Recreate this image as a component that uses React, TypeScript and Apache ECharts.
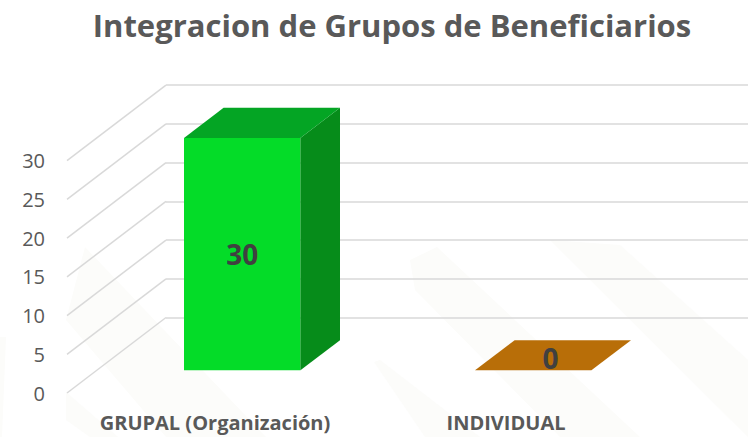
import React, { useEffect, useRef } from "react";
import * as echarts from "echarts";

const categories = ["GRUPAL (Organización)", "INDIVIDUAL"];
const values = [30, 0];
const yTicks = [0, 5, 10, 15, 20, 25, 30];
const frontColors = ["#04DC28", "#C0740A"];
const topColors = ["#04A524", "#B86E08"];
const sideColors = ["#068C1A", "#9A5C06"];
const watermark = [
  [[0, 337], [6, 337], [2, 437], [0, 437]],
  [[66, 392], [66, 420], [90, 437], [118, 437]],
  [[85, 247], [66, 320], [166, 437], [266, 437]],
  [[374, 362], [380, 360], [480, 437], [425, 437]],
  [[437, 247], [410, 260], [415, 290], [560, 437], [640, 437]],
  [[550, 240], [620, 245], [748, 360], [748, 437]],
];

const DEPTH_X = 99;
const DEPTH_Y = -75.5;

export default function App() {
  const ref = useRef<HTMLDivElement>(null);
  useEffect(() => {
    const chart = echarts.init(ref.current!, undefined, { renderer: "svg" });
    chart.setOption({
      animation: false,
      backgroundColor: "#ffffff",
      textStyle: { fontFamily: "Open Sans" },
      title: {
        text: "Integracion de Grupos de Beneficiarios",
        left: 387,
        top: 4,
        textAlign: "center",
        textStyle: { fontFamily: "Open Sans", fontSize: 31, fontWeight: 700, color: "#595959" },
      },
      graphic: watermark.map((points) => ({
        type: "polygon",
        z: -10,
        silent: true,
        shape: { points },
        style: { fill: "#fcfcfa" },
      })),
      grid: [
        { left: 166, width: 582, top: 85, height: 232.7 },
        { left: 67, width: 582, top: 160.7, height: 232.3 },
      ],
      xAxis: [
        {
          gridIndex: 0,
          type: "category",
          data: categories,
          axisLine: { show: false },
          axisTick: { show: false },
          axisLabel: { show: false },
        },
        {
          gridIndex: 1,
          type: "category",
          data: categories,
          axisLine: { show: false },
          axisTick: { show: false },
          axisLabel: {
            interval: 0,
            hideOverlap: false,
            margin: 19,
            padding: [0, 0, 0, 5],
            fontFamily: "Open Sans",
            fontSize: 20,
            fontWeight: 700,
            color: "#595959",
          },
        },
      ],
      yAxis: [
        {
          gridIndex: 0,
          type: "value",
          min: 0,
          max: 30,
          interval: 5,
          axisLine: { show: false },
          axisTick: { show: false },
          axisLabel: { show: false },
          splitLine: { show: true, lineStyle: { color: "#d9d9d9", width: 1.5 } },
        },
        {
          gridIndex: 1,
          type: "value",
          min: 0,
          max: 30,
          interval: 5,
          axisLine: { show: false },
          axisTick: { show: false },
          splitLine: { show: false },
          axisLabel: { margin: 22, padding: [4, 0, 0, 0], fontFamily: "Open Sans", fontSize: 20, color: "#595959" },
        },
      ],
      series: [
        {
          type: "custom",
          xAxisIndex: 1,
          yAxisIndex: 1,
          silent: true,
          z: 1,
          data: yTicks.map((v) => [0, v]),
          renderItem: (params: any, api: any) => {
            const y = api.coord([0, api.value(1)])[1];
            const x = params.coordSys.x;
            return {
              type: "line",
              shape: { x1: x, y1: y, x2: x + DEPTH_X, y2: y + DEPTH_Y },
              style: { stroke: "#d9d9d9", lineWidth: 1.5, fill: "none" },
            };
          },
        },
        {
          type: "custom",
          xAxisIndex: 1,
          yAxisIndex: 1,
          silent: true,
          z: 5,
          data: values.map((v, i) => [i, v]),
          renderItem: (params: any, api: any) => {
            const i = params.dataIndex;
            const v = api.value(1);
            const top = api.coord([i, v]);
            const base = api.coord([i, 0]);
            const half = api.size([1, 0])[0] * 0.2;
            const offs = (d: number) => [DEPTH_X * d, DEPTH_Y * d];
            const [fx, fy] = offs(0.3);
            const [bx, by] = offs(0.7);
            const xl = top[0] - half + fx;
            const xr = top[0] + half + fx;
            const yt = top[1] + fy;
            const yb = base[1] + fy;
            const dx = bx - fx;
            const dy = by - fy;
            const children: any[] = [];
            if (v > 0) {
              children.push({
                type: "polygon",
                shape: { points: [[xl, yt], [xr, yt], [xr, yb], [xl, yb]] },
                style: { fill: frontColors[i] },
              });
              children.push({
                type: "polygon",
                shape: { points: [[xr, yt], [xr + dx, yt + dy], [xr + dx, yb + dy], [xr, yb]] },
                style: { fill: sideColors[i] },
              });
            }
            children.push({
              type: "polygon",
              shape: { points: [[xl, yt], [xl + dx, yt + dy], [xr + dx, yt + dy], [xr, yt]] },
              style: { fill: topColors[i] },
            });
            const label = String(v);
            const lx = v > 0 ? (xl + xr) / 2 : (xl + xr) / 2 + dx / 2 - 2.5;
            const ly = v > 0 ? (yt + yb) / 2 : yt + dy / 2 + 3;
            children.push({
              type: "text",
              style: {
                x: lx,
                y: ly,
                text: label,
                align: "center",
                verticalAlign: "middle",
                fontFamily: "Open Sans",
                fontSize: 28,
                fontWeight: 700,
                fill: "#404040",
              },
            });
            return { type: "group", children };
          },
        },
      ],
    });
    return () => chart.dispose();
  }, []);
  return <div ref={ref} style={{ width: 748, height: 437, position: "absolute", left: 0, top: 0 }} />;
}
